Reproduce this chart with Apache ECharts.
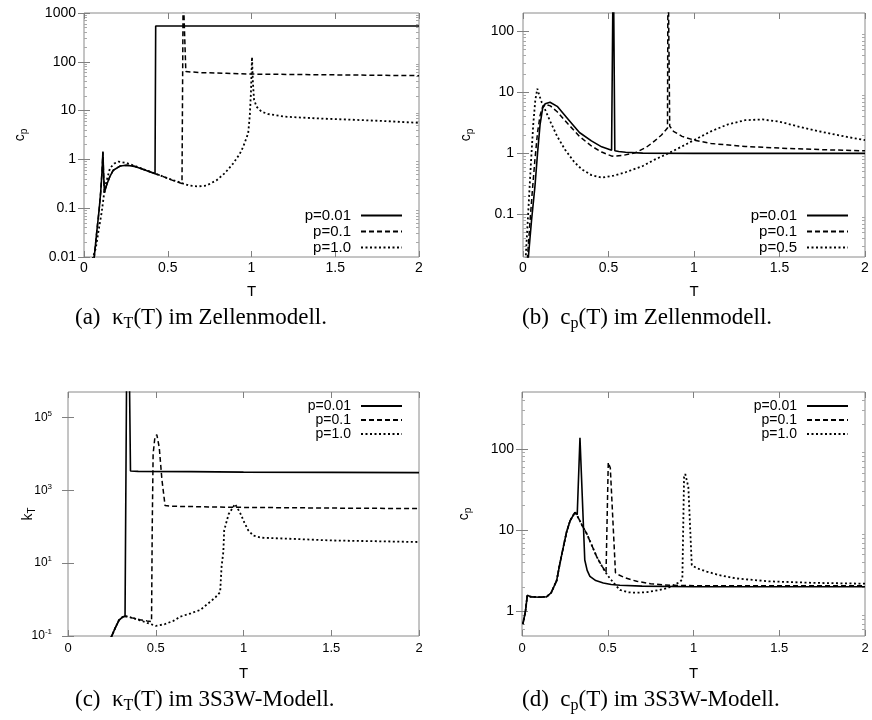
<!DOCTYPE html>
<html><head><meta charset="utf-8">
<script src="https://cdn.jsdelivr.net/npm/echarts@6/dist/echarts.min.js"></script>
<style>html,body{margin:0;padding:0;background:#fff}#c{width:872px;height:720px}</style>
</head><body><div id="c"></div>
<script>
// ---------- tick labels ----------
const xTicks = [0, 0.5, 1, 1.5, 2];
const yTicksA = [0.01, 0.1, 1, 10, 100, 1000];
const yTicksB = [0.1, 1, 10, 100];
const yTicksC = [0.1, 10, 1000, 100000];
const yTicksD = [1, 10, 100];

// ---------- panel (a) ----------
const legendA = ['p=0.01', 'p=0.1', 'p=1.0'];
const aT1 = [0.06, 0.075, 0.09, 0.10, 0.108, 0.113, 0.117, 0.122, 0.135, 0.155, 0.175, 0.215, 0.255, 0.30, 0.334, 0.38, 0.424, 0.428, 0.6, 1.0, 1.5, 2.0];
const aV1 = [0.009, 0.03, 0.09, 0.22, 0.6, 1.45, 0.5, 0.21, 0.3, 0.45, 0.6, 0.73, 0.76, 0.72, 0.66, 0.58, 0.51, 540, 540, 540, 540, 540];
const aT2 = [0.06, 0.075, 0.09, 0.10, 0.108, 0.113, 0.117, 0.122, 0.135, 0.155, 0.175, 0.215, 0.255, 0.30, 0.334, 0.38, 0.424, 0.47, 0.513, 0.55, 0.585, 0.592, 0.602, 0.608, 0.7, 0.85, 1.0, 1.25, 1.5, 1.75, 2.0];
const aV2 = [0.009, 0.03, 0.09, 0.22, 0.6, 1.4, 0.5, 0.21, 0.3, 0.45, 0.6, 0.73, 0.76, 0.72, 0.66, 0.58, 0.51, 0.45, 0.39, 0.35, 0.32, 3000, 3000, 63, 60, 58, 56, 55, 54, 53, 52];
const aT3 = [0.05, 0.07, 0.09, 0.105, 0.125, 0.155, 0.18, 0.205, 0.25, 0.30, 0.35, 0.42, 0.5, 0.58, 0.63, 0.68, 0.73, 0.79, 0.84, 0.89, 0.93, 0.95, 0.98, 0.99, 0.997, 1.003, 1.008, 1.015, 1.03, 1.06, 1.1, 1.2, 1.4, 1.6, 1.8, 2.0];
const aV3 = [0.009, 0.015, 0.04, 0.08, 0.27, 0.66, 0.82, 0.9, 0.85, 0.74, 0.64, 0.52, 0.41, 0.33, 0.29, 0.28, 0.29, 0.37, 0.52, 0.82, 1.3, 1.8, 3.4, 8, 25, 125, 40, 17, 12, 9.5, 8.5, 7.5, 6.9, 6.5, 6.1, 5.6];

// ---------- panel (b) ----------
const legendB = ['p=0.01', 'p=0.1', 'p=0.5'];
const bT1 = [0.03, 0.05, 0.07, 0.085, 0.1, 0.115, 0.13, 0.158, 0.2, 0.265, 0.33, 0.4, 0.46, 0.518, 0.526, 0.528, 0.534, 0.537, 0.56, 0.6, 0.7, 1.0, 1.5, 2.0];
const bV1 = [0.018, 0.08, 0.29, 1.0, 3.0, 5.5, 6.5, 6.9, 5.9, 3.6, 2.2, 1.6, 1.28, 1.12, 1.1, 2000, 2000, 1.1, 1.07, 1.04, 1.01, 1.0, 1.0, 1.0];
const bT2 = [0.025, 0.04, 0.055, 0.07, 0.085, 0.1, 0.115, 0.13, 0.16, 0.2, 0.265, 0.33, 0.4, 0.46, 0.52, 0.58, 0.655, 0.72, 0.77, 0.81, 0.845, 0.848, 0.853, 0.858, 0.88, 0.93, 1.0, 1.1, 1.3, 1.5, 1.75, 2.0];
const bV2 = [0.018, 0.07, 0.25, 0.8, 2.2, 4.2, 5.8, 6.4, 6.0, 4.8, 3.0, 1.9, 1.32, 1.05, 0.9, 0.92, 1.02, 1.25, 1.6, 2.0, 2.6, 2000, 2000, 2.8, 2.3, 1.9, 1.65, 1.45, 1.3, 1.22, 1.15, 1.1];
const bT3 = [0.015, 0.03, 0.045, 0.06, 0.072, 0.084, 0.095, 0.11, 0.128, 0.16, 0.2, 0.245, 0.3, 0.343, 0.4, 0.46, 0.53, 0.6, 0.7, 0.77, 0.85, 0.93, 1.0, 1.1, 1.2, 1.3, 1.4, 1.5, 1.6, 1.7, 1.8, 1.9, 2.0];
const bV3 = [0.018, 0.1, 0.6, 3.0, 7.5, 11.5, 9.0, 6.8, 5.3, 3.3, 1.9, 1.16, 0.72, 0.55, 0.44, 0.40, 0.43, 0.49, 0.62, 0.79, 1.0, 1.3, 1.65, 2.3, 3.0, 3.5, 3.6, 3.3, 2.8, 2.4, 2.1, 1.85, 1.65];

// ---------- panel (c) ----------
const legendC = ['p=0.01', 'p=0.1', 'p=1.0'];
const cT1 = [0.245, 0.27, 0.29, 0.31, 0.325, 0.331, 0.335, 0.348, 0.356, 0.4, 0.7, 1.0, 1.5, 2.0];
const cV1 = [0.09, 0.17, 0.27, 0.33, 0.35, 0.35, 1e7, 1e7, 3400, 3300, 3250, 3150, 3100, 3050];
const cT2 = [0.245, 0.27, 0.29, 0.31, 0.325, 0.34, 0.37, 0.41, 0.45, 0.476, 0.48, 0.485, 0.495, 0.506, 0.52, 0.535, 0.553, 0.6, 0.8, 1.0, 1.5, 2.0];
const cV2 = [0.09, 0.17, 0.27, 0.33, 0.35, 0.34, 0.31, 0.28, 0.26, 0.25, 100, 1e4, 2.8e4, 3.4e4, 1.5e4, 2000, 380, 365, 350, 340, 325, 315];
const cT3 = [0.245, 0.27, 0.29, 0.31, 0.325, 0.34, 0.37, 0.41, 0.45, 0.5, 0.55, 0.6, 0.64, 0.7, 0.754, 0.81, 0.84, 0.867, 0.875, 0.885, 0.89, 0.915, 0.952, 0.98, 1.005, 1.027, 1.056, 1.1, 1.3, 1.5, 1.75, 2.0];
const cV3 = [0.09, 0.17, 0.27, 0.33, 0.35, 0.34, 0.31, 0.27, 0.23, 0.19, 0.21, 0.26, 0.34, 0.42, 0.52, 0.87, 1.15, 1.6, 8, 20, 80, 220, 420, 245, 130, 80, 57, 50, 46, 42, 40, 38];

// ---------- panel (d) ----------
const legendD = ['p=0.01', 'p=0.1', 'p=1.0'];
const dT1 = [0.005, 0.02, 0.031, 0.05, 0.1, 0.144, 0.17, 0.202, 0.22, 0.241, 0.26, 0.28, 0.309, 0.322, 0.338, 0.366, 0.38, 0.396, 0.43, 0.474, 0.52, 0.571, 0.7, 1.0, 1.5, 2.0];
const dV1 = [0.7, 1.0, 1.58, 1.52, 1.5, 1.52, 1.7, 2.4, 3.8, 6.2, 9.5, 13, 16.6, 15.5, 137, 4.3, 3.2, 2.7, 2.4, 2.24, 2.15, 2.1, 2.05, 2.02, 2.02, 2.02];
const dT2 = [0.005, 0.02, 0.031, 0.05, 0.1, 0.144, 0.17, 0.202, 0.22, 0.241, 0.26, 0.28, 0.309, 0.33, 0.35, 0.377, 0.41, 0.436, 0.46, 0.49, 0.503, 0.515, 0.545, 0.56, 0.6, 0.669, 0.75, 0.863, 1.0, 1.5, 2.0];
const dV2 = [0.7, 1.0, 1.58, 1.52, 1.5, 1.52, 1.7, 2.4, 3.8, 6.2, 9.5, 13, 16.6, 14, 11.5, 9.1, 6.3, 4.7, 3.8, 3.0, 68, 58, 3.0, 2.85, 2.6, 2.35, 2.2, 2.1, 2.08, 2.08, 2.08];
const dT3 = [0.005, 0.02, 0.031, 0.05, 0.1, 0.144, 0.17, 0.202, 0.22, 0.241, 0.26, 0.28, 0.309, 0.33, 0.35, 0.377, 0.41, 0.436, 0.46, 0.484, 0.51, 0.535, 0.571, 0.62, 0.669, 0.73, 0.8, 0.85, 0.882, 0.92, 0.935, 0.945, 0.952, 0.97, 0.99, 1.02, 1.077, 1.15, 1.25, 1.44, 1.7, 2.0];
const dV3 = [0.7, 1.0, 1.58, 1.52, 1.5, 1.52, 1.7, 2.4, 3.8, 6.2, 9.5, 13, 16.6, 14, 11.5, 9.1, 6.3, 4.7, 3.8, 3.1, 2.6, 2.24, 1.84, 1.72, 1.7, 1.73, 1.84, 1.95, 2.1, 2.3, 2.5, 45, 49, 34, 3.7, 3.4, 3.1, 2.8, 2.55, 2.35, 2.25, 2.2];

// ---------- build ----------
const SANS = 'Liberation Sans';
const SERIF = 'Liberation Serif';
const TICK = '#808080';
const MINOR = '#a8a8a8';
const BORDER = '#8a8a8a';

function zip(t, v) { return t.map((x, i) => [x, v[i]]); }
function minorTicks(min, max) {
  const out = [];
  for (let d = Math.floor(Math.log10(min)); d <= Math.ceil(Math.log10(max)); d++) {
    for (let k = 2; k <= 9; k++) {
      const v = k * Math.pow(10, d);
      if (v > min * 1.001 && v < max * 0.999) out.push(v);
    }
  }
  return out;
}

const panels = [
  { grid: {left: 84, top: 13, width: 335, height: 244}, ymin: 0.01, ymax: 1000, majors: yTicksA, minors: minorTicks(0.01, 1000),
    fmt: v => String(v), yname: '{m|c}{s|p}', ynameGap: 55, ylabMargin: 8, xlabMargin: 4, xnameGap: 27, fs: 14, xfs: 14,
    legend: legendA, legendPos: {right: 469, top: 208}, legendGap: 1, legendH: 14, lfs: 15,
    series: [zip(aT1, aV1), zip(aT2, aV2), zip(aT3, aV3)] },
  { grid: {left: 523, top: 13, width: 342, height: 244}, ymin: 0.02, ymax: 200, majors: yTicksB, minors: minorTicks(0.02, 200),
    fmt: v => String(v), yname: '{m|c}{s|p}', ynameGap: 48, ylabMargin: 9, xlabMargin: 4, xnameGap: 27, fs: 14, xfs: 14,
    legend: legendB, legendPos: {right: 23, top: 208}, legendGap: 1, legendH: 14, lfs: 15,
    series: [zip(bT1, bV1), zip(bT2, bV2), zip(bT3, bV3)] },
  { grid: {left: 68, top: 392, width: 351, height: 244}, ymin: 0.1, ymax: 5e5, majors: yTicksC, minors: [],
    fmt: v => '{b|10}{e|' + Math.round(Math.log10(v)) + '}', yname: '{m|k}{s|T}', ynameGap: 31, ylabMargin: 16, xlabMargin: 6, xnameGap: 30, fs: 12, xfs: 13,
    legend: legendC, legendPos: {right: 469, top: 399}, legendGap: 0, legendH: 12, lfs: 14,
    series: [zip(cT1, cV1), zip(cT2, cV2), zip(cT3, cV3)] },
  { grid: {left: 522, top: 392, width: 343, height: 244}, ymin: 0.5, ymax: 500, majors: yTicksD, minors: minorTicks(0.5, 500),
    fmt: v => String(v), yname: '{m|c}{s|p}', ynameGap: 49, ylabMargin: 8, xlabMargin: 6, xnameGap: 30, fs: 14, xfs: 13,
    legend: legendD, legendPos: {right: 23, top: 399}, legendGap: 0, legendH: 12, lfs: 14,
    series: [zip(dT1, dV1), zip(dT2, dV2), zip(dT3, dV3)] }
];

const styles = [
  {type: 'solid', width: 1.6},
  {type: [5, 3], width: 1.5},
  {type: [2, 2.5], width: 1.8}
];

const grid = [], xAxis = [], yAxis = [], series = [], legend = [];
panels.forEach((p, gi) => {
  grid.push(Object.assign({show: true, borderColor: BORDER, borderWidth: 1, backgroundColor: 'transparent'}, p.grid));
  const xi = xAxis.length;
  const xbase = {gridIndex: gi, type: 'value', min: 0, max: 2, interval: 0.5, axisLine: {show: false}, splitLine: {show: false}};
  xAxis.push(Object.assign({}, xbase, {
    position: 'bottom',
    axisTick: {inside: true, length: 6, customValues: xTicks, lineStyle: {color: TICK}},
    axisLabel: {customValues: xTicks, color: '#000', fontFamily: SANS, fontSize: p.xfs, margin: p.xlabMargin, formatter: v => String(v)},
    name: 'T', nameLocation: 'middle', nameGap: p.xnameGap, nameMoveOverlap: false,
    nameTextStyle: {color: '#000', fontFamily: SANS, fontSize: 15}
  }));
  xAxis.push(Object.assign({}, xbase, {
    position: 'top', axisTick: {inside: true, length: 6, customValues: xTicks, lineStyle: {color: TICK}}, axisLabel: {show: false}
  }));
  const yi = yAxis.length;
  const ybase = {gridIndex: gi, type: 'log', logBase: 10, min: p.ymin, max: p.ymax, axisLine: {show: false}, splitLine: {show: false}};
  yAxis.push(Object.assign({}, ybase, {
    position: 'left',
    axisTick: {inside: true, length: 6, customValues: p.majors, lineStyle: {color: TICK}},
    axisLabel: {customValues: p.majors, color: '#000', fontFamily: SANS, fontSize: p.fs, margin: p.ylabMargin, formatter: p.fmt,
      rich: {b: {fontFamily: SANS, fontSize: p.fs, lineHeight: 16, color: '#000'},
             e: {fontFamily: SANS, fontSize: 8, lineHeight: 8, verticalAlign: 'top', color: '#000'}}},
    name: p.yname, nameLocation: 'middle', nameRotate: 90, nameGap: p.ynameGap, nameMoveOverlap: false,
    nameTextStyle: {color: '#000', fontFamily: SANS, fontSize: 14,
      rich: {m: {fontFamily: SANS, fontSize: 14, lineHeight: 18, color: '#000'},
             s: {fontFamily: SANS, fontSize: 10, lineHeight: 10, verticalAlign: 'bottom', color: '#000'}}}
  }));
  yAxis.push(Object.assign({}, ybase, {
    position: 'right', axisTick: {inside: true, length: 6, customValues: p.majors, lineStyle: {color: TICK}}, axisLabel: {show: false}
  }));
  if (p.minors.length) {
    yAxis.push(Object.assign({}, ybase, {
      position: 'left', axisTick: {inside: true, length: 3, customValues: p.minors, lineStyle: {color: MINOR}}, axisLabel: {show: false}
    }));
    yAxis.push(Object.assign({}, ybase, {
      position: 'right', axisTick: {inside: true, length: 3, customValues: p.minors, lineStyle: {color: MINOR}}, axisLabel: {show: false}
    }));
  }
  p.series.forEach((d, si) => {
    series.push({
      type: 'line', name: p.legend[si], xAxisIndex: xi, yAxisIndex: yi, data: d,
      symbol: 'none', silent: true, animation: false, clip: true,
      lineStyle: {color: '#000', width: styles[si].width, type: styles[si].type},
      itemStyle: {color: '#000'}
    });
  });
  legend.push(Object.assign({
    orient: 'vertical', align: 'right', padding: 0, selectedMode: false,
    itemWidth: 41, itemHeight: p.legendH, itemGap: p.legendGap,
    data: p.legend,
    itemStyle: {opacity: 0, borderWidth: 0},
    textStyle: {color: '#000', fontFamily: SANS, fontSize: p.lfs, padding: [0, 5, 0, 0], lineHeight: p.legendH}
  }, p.legendPos));
});

const capRich = {
  s: {fontFamily: SERIF, fontSize: 16, lineHeight: 16, verticalAlign: 'bottom', color: '#000'}
};
const captions = [
  {text: '(a)  κ{s|T}(T) im Zellenmodell.', left: 75, top: 304},
  {text: '(b)  c{s|p}(T) im Zellenmodell.', left: 522, top: 304},
  {text: '(c)  κ{s|T}(T) im 3S3W-Modell.', left: 75, top: 686},
  {text: '(d)  c{s|p}(T) im 3S3W-Modell.', left: 522, top: 686}
];
const title = captions.map(c => ({
  text: c.text, left: c.left, top: c.top, padding: 0,
  textStyle: {fontFamily: SERIF, fontSize: 23, fontWeight: 'normal', color: '#000', lineHeight: 28, rich: capRich}
}));

const chart = echarts.init(document.getElementById('c'), null, {renderer: 'canvas', width: 872, height: 720});
chart.setOption({
  backgroundColor: '#fff',
  animation: false,
  title, grid, xAxis, yAxis, series, legend
});
</script>
</body></html>
